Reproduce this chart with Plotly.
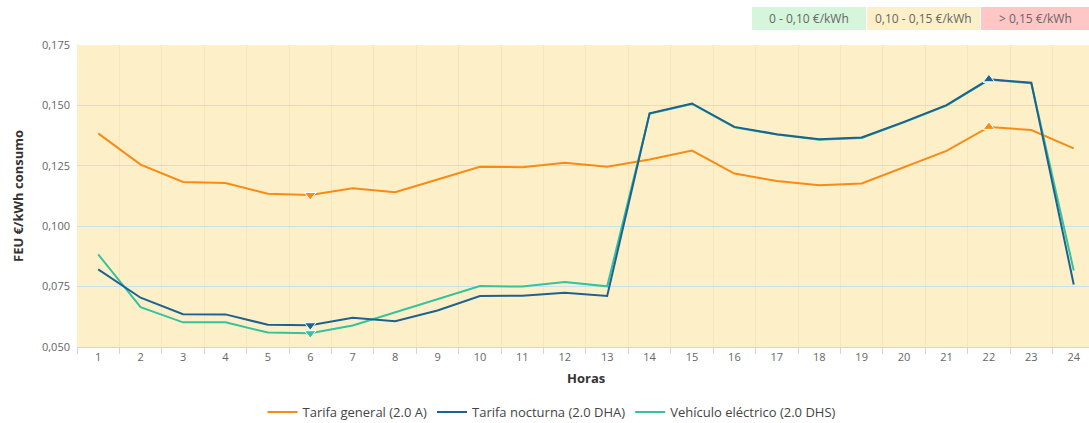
import plotly.graph_objects as go
import numpy as np

horas = list(range(1, 25))
tarifa_general = [0.1384, 0.1255, 0.1183, 0.1179, 0.1134, 0.1129, 0.1157, 0.1141, 0.1193, 0.1246, 0.1244, 0.1263,
                  0.1246, 0.1276, 0.1313, 0.1218, 0.1187, 0.1170, 0.1177, 0.1243, 0.1312, 0.1411, 0.1398, 0.1322]
tarifa_nocturna = [0.0821, 0.0704, 0.0636, 0.0635, 0.0592, 0.0590, 0.0621, 0.0607, 0.0651, 0.0711, 0.0712, 0.0725,
                   0.0711, 0.1467, 0.1508, 0.1411, 0.1381, 0.1360, 0.1367, 0.1432, 0.1501, 0.1608, 0.1594, 0.0759]
vehiculo_electrico = [0.0883, 0.0665, 0.0602, 0.0602, 0.0560, 0.0557, 0.0589, 0.0644, 0.0698, 0.0752, 0.0750, 0.0769,
                      0.0751, 0.1465, 0.1506, 0.1409, 0.1379, 0.1358, 0.1365, 0.1430, 0.1499, 0.1606, 0.1592, 0.0817]

names = ["Tarifa general (2.0 A)", "Tarifa nocturna (2.0 DHA)", "Vehículo eléctrico (2.0 DHS)"]
colors = ["#fb8a14", "#1d6190", "#35c29c"]
series = [tarifa_general, tarifa_nocturna, vehiculo_electrico]

bandas = ["0 - 0,10 €/kWh", "0,10 - 0,15 €/kWh", "> 0,15 €/kWh"]
banda_colores = ["#d5f6da", "#fdf0c9", "#ffc6c6"]

FONT = "Open Sans"
fig = go.Figure()

# draw order: orange, green, blue (blue on top); legend order via legendrank
draw_order = [0, 2, 1]
for i in draw_order:
    fig.add_trace(go.Scatter(
        x=horas, y=series[i], mode="lines", name=names[i],
        line=dict(color=colors[i], width=2), legendrank=i + 1,
    ))
for i in draw_order:
    vals = np.array(series[i])
    imin = int(np.argmin(vals)); imax = int(np.argmax(vals))
    fig.add_trace(go.Scatter(
        x=[horas[imin], horas[imax]], y=[vals[imin], vals[imax]], mode="markers",
        marker=dict(symbol=["triangle-down", "triangle-up"], size=10, color=colors[i],
                    line=dict(color="white", width=1)),
        showlegend=False, hoverinfo="skip",
    ))

L, R, T, B = 77, 0, 45, 76
W, H = 1089, 423
pw = W - L - R
ph = H - T - B

def px_x(x):
    return (x - L) / pw

def px_y(y):
    return (H - B - y) / ph

# top-right price band boxes
edges = [(752, 866), (867, 980), (981, 1089)]
for (x0, x1), txt, col in zip(edges, bandas, banda_colores):
    fig.add_shape(type="rect", xref="paper", yref="paper", x0=px_x(x0), x1=px_x(x1),
                  y0=px_y(30), y1=px_y(7), fillcolor=col, line=dict(width=0), layer="above")
    fig.add_annotation(xref="paper", yref="paper", x=px_x((x0 + x1) / 2), y=px_y(18.5),
                       text=txt, showarrow=False, font=dict(family=FONT, size=12, color="#666666"),
                       xanchor="center", yanchor="middle")

fig.add_annotation(xref="paper", yref="paper", x=px_x(18), y=px_y(196), text="<b>FEU €/kWh consumo</b>",
                   textangle=-90, showarrow=False, font=dict(family=FONT, size=13, color="#333333"),
                   xanchor="center", yanchor="middle")
fig.add_annotation(xref="paper", yref="paper", x=px_x(586), y=px_y(378), text="<b>Horas</b>",
                   showarrow=False, font=dict(family=FONT, size=13, color="#333333"),
                   xanchor="center", yanchor="middle")

fig.update_layout(
    width=W, height=H,
    margin=dict(l=L, r=R, t=T, b=B, autoexpand=False),
    paper_bgcolor="white", plot_bgcolor="#fdf0c9",
    separators=",.",
    font=dict(family=FONT, size=11, color="#666666"),
    showlegend=True,
    legend=dict(orientation="h", xref="container", x=552 / W, xanchor="center",
                yref="container", y=1 - 412 / H, yanchor="middle",
                font=dict(family=FONT, size=13, color="#444444"), bgcolor="rgba(0,0,0,0)",
                itemwidth=30, tracegroupgap=0),
    hovermode=False,
)
fig.update_xaxes(
    range=[0.5, 24.36], tickmode="array", tickvals=horas, ticktext=[str(h) for h in horas],
    ticks="", showgrid=False, zeroline=False,
    showline=True, linecolor="#c6d9e8", linewidth=1,
    tickfont=dict(family=FONT, size=11, color="#666666"),
    minor=dict(tick0=0.5, dtick=1, ticks="outside", ticklen=6, tickcolor="#c6d9e8",
               showgrid=True, gridcolor="#f6e6bd", gridwidth=1),
)
fig.update_yaxes(
    range=[0.05, 0.175], tickmode="array", tickvals=[0.05, 0.075, 0.1, 0.125, 0.15, 0.175],
    tickformat=".3f", showgrid=True, gridcolor="#c8e0ef", gridwidth=1, zeroline=False,
    showline=False, ticks="", ticklabelstandoff=6,
    tickfont=dict(family=FONT, size=11, color="#666666"),
)

fig.write_html("out.html", config={"displayModeBar": False},
               post_script="document.body.style.margin='0';document.body.style.overflow='hidden';")
